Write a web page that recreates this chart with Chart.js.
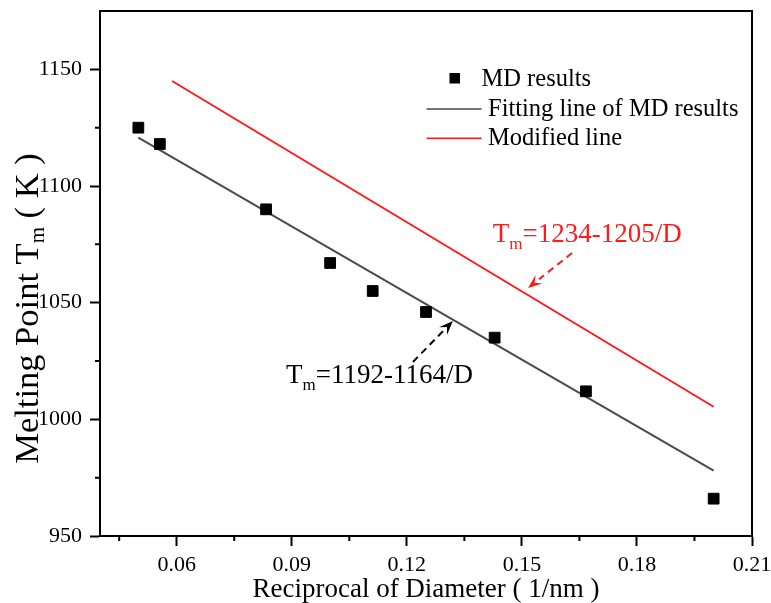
<!DOCTYPE html>
<html>
<head>
<meta charset="utf-8">
<script src="https://cdn.jsdelivr.net/npm/chart.js@4/dist/chart.umd.min.js"></script>
<style>
  html, body { margin: 0; padding: 0; background: #ffffff; }
  #wrap { width: 771px; height: 603px; position: relative; }
</style>
</head>
<body>
<div id="wrap"><canvas id="c" width="771" height="603"></canvas></div>
<script>
// ---------- data ----------
const mdX = [0.05, 0.0556, 0.0833, 0.1, 0.1111, 0.125, 0.1429, 0.1667, 0.2];
const mdY = [1125, 1118, 1090, 1067, 1055, 1046, 1035, 1012, 966];
const fitX = [0.05, 0.2];
const fitY = [1120.7, 978];
const modX = [0.0588, 0.2];
const modY = [1145, 1005.4];

const xTickValues = [0.06, 0.09, 0.12, 0.15, 0.18, 0.21];
const xTickLabels = ['0.06', '0.09', '0.12', '0.15', '0.18', '0.21'];
const xMinorValues = [0.045, 0.075, 0.105, 0.135, 0.165, 0.195];
const yTickValues = [950, 1000, 1050, 1100, 1150];
const yTickLabels = ['950', '1000', '1050', '1100', '1150'];
const yMinorValues = [975, 1025, 1075, 1125];

const seriesNames = ['MD results', 'Fitting line of MD results', 'Modified line'];
const xTitle = 'Reciprocal of Diameter ( 1/nm )';
const yTitleParts = ['Melting Point T', 'm', ' ( K )'];

// annotation anchors in data units
const fitLabel = { x: 0.0885, y: 1015.4, parts: ['T', 'm', '=1192-1164/D'] };
const fitArrow = { x0: 0.1216, y0: 1024.6, x1: 0.1320, y1: 1042.1 };
const modLabel = { x: 0.1424, y: 1076.1, parts: ['T', 'm', '=1234-1205/D'] };
const modArrow = { x0: 0.1631, y0: 1071.3, x1: 0.1516, y1: 1056.3 };

// ---------- styling ----------
const FONT = "'Liberation Serif', 'Times New Roman', serif";
const GRAY = '#4a4a4a';
const RED = '#ff1a1a';

function pts(xs, ys) { return xs.map((x, i) => ({ x: x, y: ys[i] })); }

function drawSubText(ctx, x, y, parts, big, small, drop) {
  ctx.font = big + 'px ' + FONT;
  ctx.fillText(parts[0], x, y);
  x += ctx.measureText(parts[0]).width;
  ctx.font = small + 'px ' + FONT;
  ctx.fillText(parts[1], x, y + drop);
  x += ctx.measureText(parts[1]).width;
  ctx.font = big + 'px ' + FONT;
  ctx.fillText(parts[2], x, y);
}
function subTextWidth(ctx, parts, big, small) {
  ctx.font = big + 'px ' + FONT;
  let w = ctx.measureText(parts[0]).width + ctx.measureText(parts[2]).width;
  ctx.font = small + 'px ' + FONT;
  return w + ctx.measureText(parts[1]).width;
}
function dashedArrow(ctx, x0, y0, x1, y1, color) {
  const ang = Math.atan2(y1 - y0, x1 - x0);
  const headL = 14, headW = 5.5;
  const bx = x1 - headL * Math.cos(ang), by = y1 - headL * Math.sin(ang);
  ctx.save();
  ctx.strokeStyle = color; ctx.fillStyle = color;
  ctx.lineWidth = 2;
  ctx.setLineDash([7, 5]);
  ctx.beginPath(); ctx.moveTo(x0, y0); ctx.lineTo(bx, by); ctx.stroke();
  ctx.setLineDash([]);
  ctx.beginPath();
  ctx.moveTo(x1, y1);
  ctx.lineTo(bx + headW * Math.sin(ang), by - headW * Math.cos(ang));
  ctx.lineTo(x1 - 0.6 * headL * Math.cos(ang), y1 - 0.6 * headL * Math.sin(ang));
  ctx.lineTo(bx - headW * Math.sin(ang), by + headW * Math.cos(ang));
  ctx.closePath(); ctx.fill();
  ctx.restore();
}

const decor = {
  id: 'decor',
  afterDraw(chart) {
    const ctx = chart.ctx;
    const a = chart.chartArea;
    const xs = chart.scales.x, ys = chart.scales.y;
    ctx.save();
    // top/right frame
    ctx.strokeStyle = '#000'; ctx.lineWidth = 2;
    ctx.beginPath();
    ctx.moveTo(a.left - 1, a.top); ctx.lineTo(a.right, a.top); ctx.lineTo(a.right, a.bottom);
    ctx.stroke();
    // minor ticks
    ctx.beginPath();
    xMinorValues.forEach(v => { const p = xs.getPixelForValue(v); ctx.moveTo(p, a.bottom); ctx.lineTo(p, a.bottom + 5); });
    yMinorValues.forEach(v => { const p = ys.getPixelForValue(v); ctx.moveTo(a.left, p); ctx.lineTo(a.left - 5, p); });
    ctx.stroke();

    // annotations
    ctx.textBaseline = 'alphabetic'; ctx.textAlign = 'left';
    ctx.fillStyle = '#000';
    drawSubText(ctx, xs.getPixelForValue(fitLabel.x), ys.getPixelForValue(fitLabel.y), fitLabel.parts, 27, 17, 7);
    dashedArrow(ctx, xs.getPixelForValue(fitArrow.x0), ys.getPixelForValue(fitArrow.y0),
                xs.getPixelForValue(fitArrow.x1), ys.getPixelForValue(fitArrow.y1), '#000');
    ctx.fillStyle = RED;
    drawSubText(ctx, xs.getPixelForValue(modLabel.x), ys.getPixelForValue(modLabel.y), modLabel.parts, 27, 17, 7);
    dashedArrow(ctx, xs.getPixelForValue(modArrow.x0), ys.getPixelForValue(modArrow.y0),
                xs.getPixelForValue(modArrow.x1), ys.getPixelForValue(modArrow.y1), RED);

    // legend
    ctx.fillStyle = '#000';
    ctx.fillRect(449.5, 73, 10.5, 10.5);
    ctx.font = '24.5px ' + FONT;
    ctx.fillText(seriesNames[0], 481.5, 85.7);
    ctx.lineWidth = 1.5;
    ctx.strokeStyle = GRAY;
    ctx.beginPath(); ctx.moveTo(426.5, 109); ctx.lineTo(481.5, 109); ctx.stroke();
    ctx.fillText(seriesNames[1], 488, 115.7);
    ctx.strokeStyle = RED;
    ctx.beginPath(); ctx.moveTo(426.5, 138.3); ctx.lineTo(481.5, 138.3); ctx.stroke();
    ctx.fillText(seriesNames[2], 488, 145);

    // x title
    ctx.font = '27px ' + FONT;
    ctx.textAlign = 'center';
    ctx.fillText(xTitle, (a.left + a.right) / 2, 597);

    // y title
    ctx.textAlign = 'left';
    const w = subTextWidth(ctx, yTitleParts, 34.5, 21);
    ctx.translate(37.5, (a.top + a.bottom) / 2 + 35);
    ctx.rotate(-Math.PI / 2);
    drawSubText(ctx, -w / 2, 0, yTitleParts, 34.5, 21, 6);
    ctx.restore();
  }
};

const tickFont = { family: FONT, size: 22 };

new Chart(document.getElementById('c'), {
  type: 'scatter',
  data: {
    datasets: [
      { label: seriesNames[0], data: pts(mdX, mdY), showLine: false,
        pointStyle: 'rect', pointRadius: 7.6, pointBackgroundColor: '#000', pointBorderColor: '#000', pointBorderWidth: 1, order: 0 },
      { label: seriesNames[1], data: pts(fitX, fitY), showLine: true, pointRadius: 0,
        borderColor: GRAY, borderWidth: 2, order: 1 },
      { label: seriesNames[2], data: pts(modX, modY), showLine: true, pointRadius: 0,
        borderColor: RED, borderWidth: 2, order: 2 }
    ]
  },
  options: {
    responsive: false, animation: false, devicePixelRatio: 1,
    layout: { padding: { top: 11, right: 19, left: 0, bottom: 0 } },
    plugins: { legend: { display: false }, tooltip: { enabled: false } },
    scales: {
      x: {
        type: 'linear', position: 'bottom', min: 0.04, max: 0.21,
        afterBuildTicks: s => { s.ticks = xTickValues.map(v => ({ value: v })); },
        afterFit: s => { s.height = 67; s.paddingLeft = 0; s.paddingRight = 0; },
        ticks: { font: tickFont, color: '#000', padding: 6, maxRotation: 0, autoSkip: false,
                 callback: (v, i) => xTickLabels[i] },
        grid: { display: true, drawOnChartArea: false, drawTicks: true, tickLength: 10, tickWidth: 2, tickColor: '#000', color: '#000' },
        border: { display: true, color: '#000', width: 2 }
      },
      y: {
        type: 'linear', position: 'left', min: 950, max: 1175,
        afterBuildTicks: s => { s.ticks = yTickValues.map(v => ({ value: v })); },
        afterFit: s => { s.width = 100; s.paddingTop = 0; s.paddingBottom = 0; },
        ticks: { font: tickFont, color: '#000', padding: 8, autoSkip: false,
                 callback: (v, i) => yTickLabels[i] },
        grid: { display: true, drawOnChartArea: false, drawTicks: true, tickLength: 10, tickWidth: 2, tickColor: '#000', color: '#000' },
        border: { display: true, color: '#000', width: 2 }
      }
    }
  },
  plugins: [decor]
});
</script>
</body>
</html>
